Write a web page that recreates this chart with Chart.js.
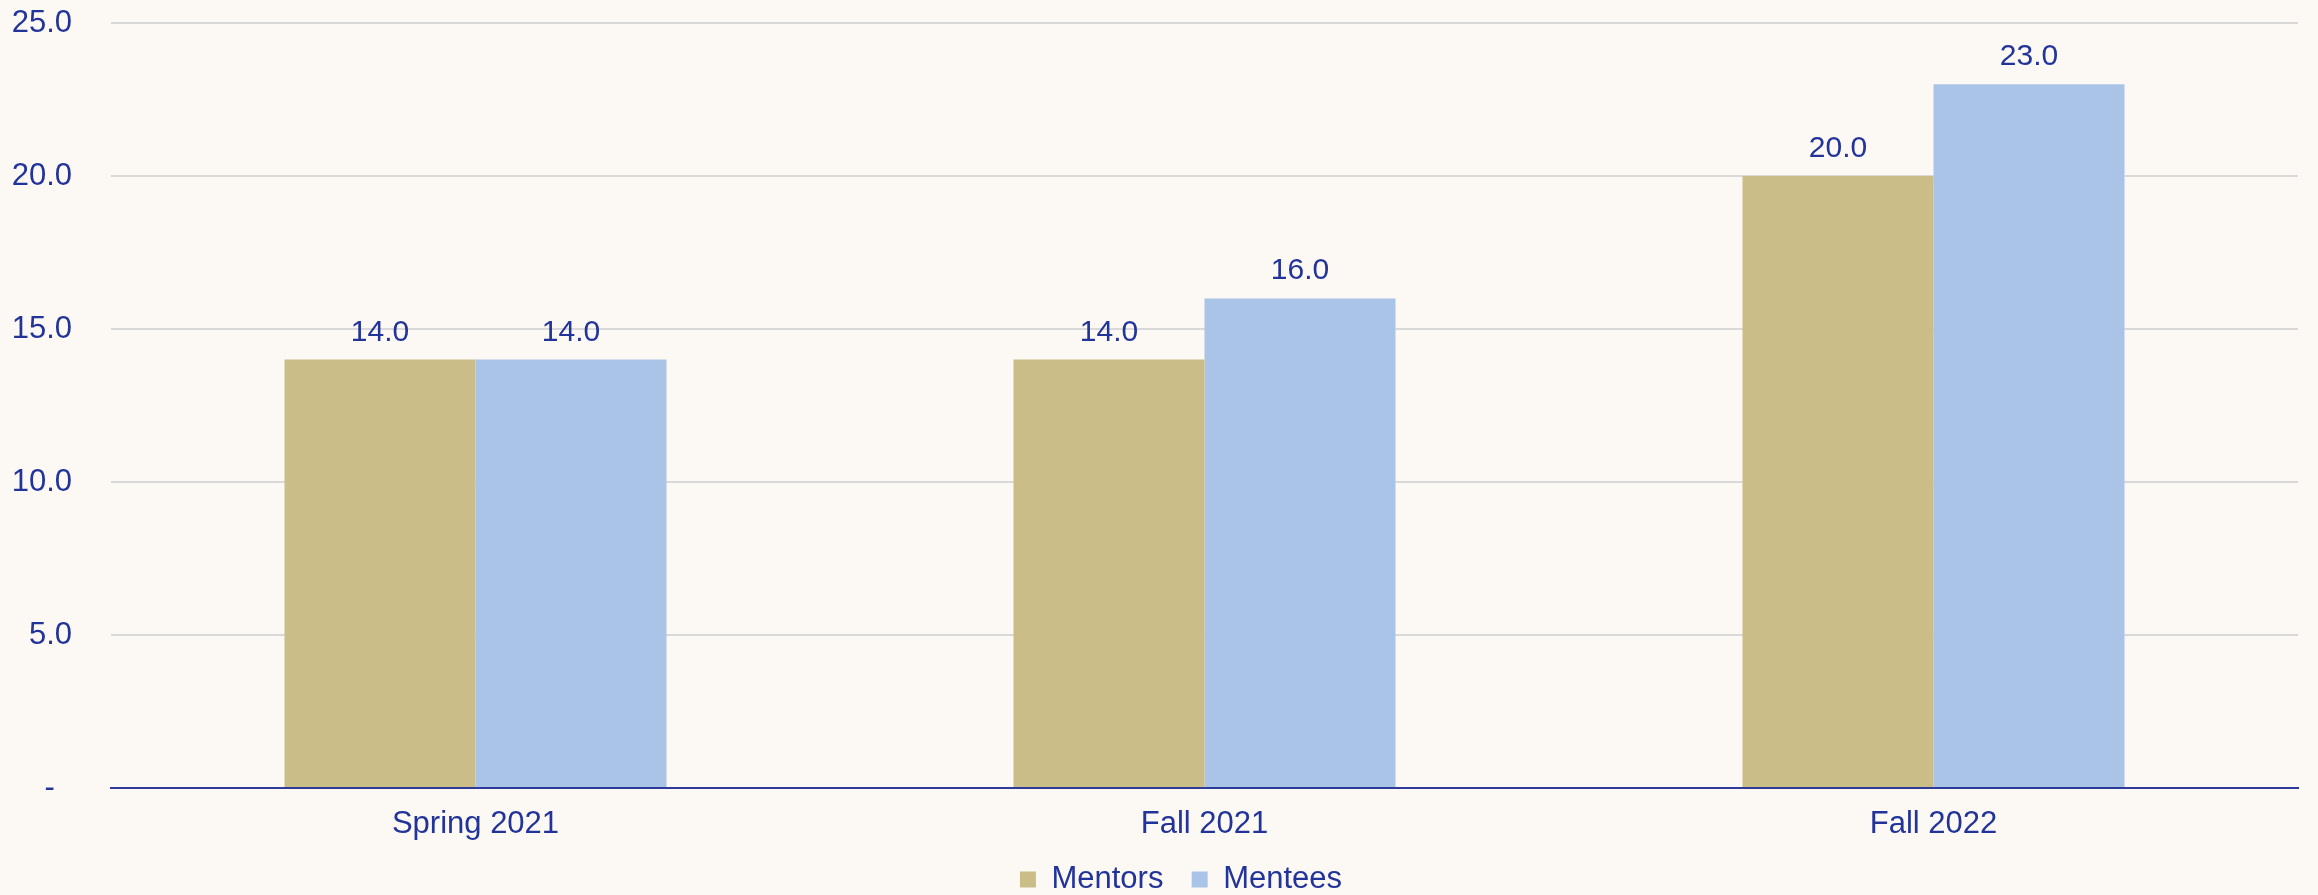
<!DOCTYPE html>
<html>
<head>
<meta charset="utf-8">
<script src="https://cdn.jsdelivr.net/npm/chart.js@4"></script>
<style>
  html, body { margin: 0; padding: 0; background: #fcf9f4; }
  #wrap { width: 2318px; height: 895px; }
</style>
</head>
<body>
<div id="wrap"><canvas id="chart"></canvas></div>
<script>
// data
const categories = ['Spring 2021', 'Fall 2021', 'Fall 2022'];
const mentors = [14, 14, 20];
const mentees = [14, 16, 23];
const yTicks = [0, 5, 10, 15, 20, 25];

const TEXT = '#22339a';
const FONT = "'Liberation Sans', Arial, sans-serif";

// value labels above each bar
const barLabels = {
    id: 'barLabels',
    afterDatasetsDraw(chart) {
        const ctx = chart.ctx;
        ctx.save();
        ctx.fillStyle = TEXT;
        ctx.font = '30px ' + FONT;
        ctx.textAlign = 'center';
        ctx.textBaseline = 'alphabetic';
        chart.data.datasets.forEach((ds, i) => {
            chart.getDatasetMeta(i).data.forEach((bar, j) => {
                ctx.fillText(ds.data[j].toFixed(1), bar.x, bar.y - 19);
            });
        });
        ctx.restore();
    }
};

const bg = {
    id: 'bg',
    beforeDraw(chart) {
        const ctx = chart.ctx;
        ctx.save();
        ctx.fillStyle = '#fcf9f4';
        ctx.fillRect(0, 0, chart.width, chart.height);
        ctx.restore();
    },
    // nudge legend a bit right, the original sits off-centre
    afterLayout(chart) {
        if (chart.legend) {
            chart.legend.left += 32;
            chart.legend.right += 32;
        }
    }
};

document.addEventListener('DOMContentLoaded', () => {
    const ctx = document.getElementById('chart').getContext('2d');
    new Chart(ctx, {
        type: 'bar',
        data: {
            labels: categories,
            datasets: [
                { label: 'Mentors', data: mentors, backgroundColor: '#cbbd88' },
                { label: 'Mentees', data: mentees, backgroundColor: '#aac4e8' }
            ]
        },
        options: {
            responsive: true,
            maintainAspectRatio: false,
            animation: false,
            categoryPercentage: 0.524,
            barPercentage: 1,
            layout: { padding: { top: 23, right: 20, left: 0, bottom: -10 } },
            scales: {
                x: {
                    grid: { display: false, drawTicks: false },
                    border: { color: '#2e3b98', width: 2 },
                    ticks: { color: TEXT, font: { family: FONT, size: 31 }, padding: 18 },
                    afterFit(scale) { scale.height = 65; }
                },
                y: {
                    min: 0,
                    max: 25,
                    afterBuildTicks(scale) { scale.ticks = yTicks.map(v => ({ value: v })); },
                    grid: {
                        drawTicks: false,
                        lineWidth: 2,
                        color: c => (c.tick && c.tick.value === 0) ? '#2e3b98' : '#d9d9d9'
                    },
                    border: { display: false },
                    ticks: {
                        color: TEXT,
                        font: { family: FONT, size: 31 },
                        padding: 39,
                        callback: v => v === 0 ? '-  ' : v.toFixed(1)
                    },
                    afterFit(scale) {
                        scale.width = 111;
                        scale.paddingTop = 0;
                        scale.paddingBottom = 0;
                    }
                }
            },
            plugins: {
                legend: {
                    position: 'bottom',
                    labels: {
                        color: TEXT,
                        font: { family: FONT, size: 31 },
                        boxWidth: 16,
                        boxHeight: 16,
                        padding: 11,
                        generateLabels(chart) {
                            const items = Chart.defaults.plugins.legend.labels.generateLabels(chart);
                            items[0].text += '  ';
                            return items;
                        }
                    }
                },
                tooltip: { enabled: false }
            }
        },
        plugins: [bg, barLabels]
    });
});
</script>
</body>
</html>
